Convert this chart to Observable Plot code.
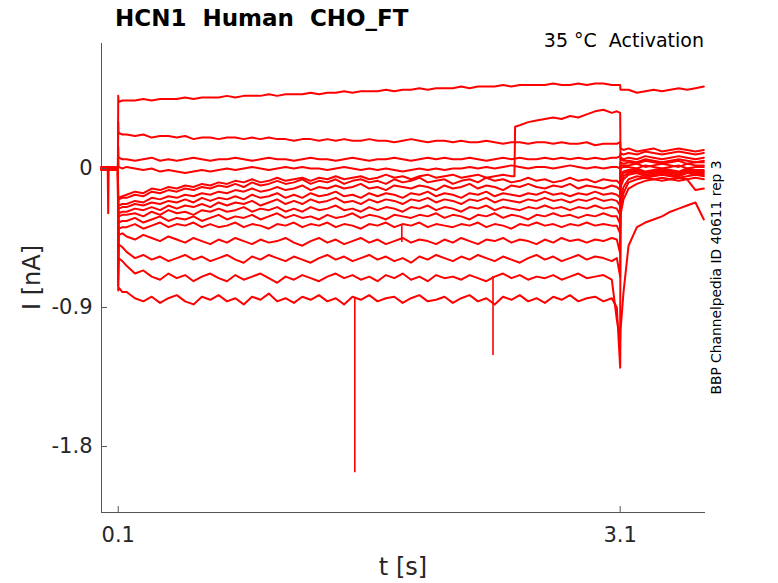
<!DOCTYPE html>
<html>
<head>
<meta charset="utf-8">
<script src="https://cdn.jsdelivr.net/npm/d3@7"></script>
<script src="https://cdn.jsdelivr.net/npm/@observablehq/plot@0.6"></script>
<style>
  html, body { margin: 0; padding: 0; background: #fff; }
  svg text { white-space: pre; }
</style>
</head>
<body>
<div id="chart"></div>
<script>
// ---- sample times (s) ----
const tPre = [0, 0.02, 0.037, 0.04, 0.043, 0.07, 0.098];
const tOn = [0.1, 0.102, 0.125];
const tStep = d3.range(59).map(i => +(0.15 + 0.05 * i).toFixed(2)); // 0.15 .. 3.05
const tOff = [3.08, 3.1, 3.102, 3.12];
const tPost = d3.range(10).map(i => +(3.15 + 0.05 * i).toFixed(2)); // 3.15 .. 3.6
const time = [...tPre, ...tOn, ...tStep, ...tOff, ...tPost];

// ---- current traces (nA): pre(7) | onset(3) | step(59) | offset(4) | post(10) ----
const trace01 = [0.01,-0.01,0.00,0.01,0.00,-0.01,0.01,
  0.47,0.43,0.44,
  0.44,0.44,0.45,0.44,0.45,0.45,0.45,0.46,0.45,0.46,
  0.46,0.46,0.47,0.46,0.47,0.47,0.47,0.48,0.47,0.48,
  0.48,0.48,0.49,0.48,0.49,0.49,0.50,0.49,0.50,0.50,
  0.50,0.51,0.50,0.51,0.51,0.52,0.51,0.52,0.52,0.52,
  0.53,0.52,0.53,0.53,0.53,0.54,0.53,0.54,0.54,0.54,
  0.54,0.55,0.54,0.54,0.55,0.54,0.55,0.55,0.54,
  0.54,0.54,0.51,0.51,
  0.51,0.49,0.50,0.51,0.50,0.51,0.52,0.51,0.52,0.53];
const trace02 = [0.00,0.01,-0.01,0.00,0.01,0.00,-0.01,
  0.30,0.23,0.22,
  0.22,0.21,0.22,0.20,0.21,0.21,0.20,0.21,0.19,0.20,
  0.20,0.19,0.20,0.20,0.19,0.20,0.19,0.20,0.19,0.19,
  0.18,0.19,0.19,0.18,0.19,0.18,0.19,0.18,0.18,0.19,
  0.18,0.18,0.17,0.18,0.19,0.18,0.17,0.18,0.18,0.17,
  0.18,0.17,0.17,0.18,0.17,0.16,0.17,0.17,0.16,0.17,
  0.17,0.16,0.17,0.16,0.16,0.17,0.15,0.16,0.16,
  0.16,0.17,0.13,0.12,
  0.13,0.11,0.12,0.13,0.11,0.12,0.13,0.12,0.11,0.12];
const trace03 = [-0.01,0.00,0.01,-0.29,0.01,0.00,0.00,
  0.14,0.07,0.06,
  0.06,0.05,0.06,0.07,0.05,0.06,0.05,0.06,0.07,0.06,
  0.05,0.06,0.06,0.07,0.06,0.05,0.06,0.07,0.06,0.06,
  0.05,0.06,0.07,0.06,0.06,0.05,0.06,0.07,0.06,0.05,
  0.06,0.06,0.07,0.06,0.05,0.06,0.07,0.06,0.07,0.06,
  0.06,0.07,0.06,0.05,0.06,0.07,0.06,0.07,0.06,0.06,
  0.07,0.06,0.07,0.06,0.07,0.06,0.07,0.06,0.07,
  0.07,0.08,0.10,0.09,
  0.10,0.09,0.11,0.10,0.09,0.10,0.11,0.10,0.09,0.10];
const trace04 = [0.01,0.00,-0.01,0.00,0.01,-0.01,0.00,
  0.08,0.01,0.00,
  0.01,0.00,-0.01,0.00,-0.02,-0.01,-0.02,-0.03,-0.02,-0.01,
  -0.02,-0.01,0.00,-0.01,0.00,0.01,0.00,-0.01,0.00,0.01,
  0.00,0.01,0.00,0.00,-0.01,0.00,0.01,0.00,-0.01,0.00,
  -0.01,0.00,-0.01,-0.02,-0.01,0.00,-0.01,0.00,-0.01,0.00,
  0.00,0.01,0.00,0.01,0.00,0.01,0.02,0.01,0.00,0.01,
  0.01,0.00,0.01,0.02,0.01,0.00,0.01,0.00,0.01,
  0.01,0.00,0.07,0.06,
  0.07,0.06,0.08,0.07,0.06,0.07,0.08,0.07,0.06,0.07];
const trace05 = [0.00,-0.01,0.01,0.00,0.00,0.01,-0.01,
  -0.22,-0.19,-0.18,
  -0.17,-0.15,-0.16,-0.13,-0.14,-0.12,-0.13,-0.11,-0.12,-0.10,
  -0.11,-0.09,-0.10,-0.08,-0.09,-0.07,-0.09,-0.08,-0.06,-0.08,
  -0.07,-0.06,-0.08,-0.06,-0.07,-0.05,-0.07,-0.06,-0.05,-0.07,
  -0.06,-0.04,-0.06,-0.05,-0.07,-0.05,-0.04,-0.06,-0.05,-0.04,
  -0.06,-0.05,-0.04,-0.06,-0.05,-0.04,-0.05,
  0.28,0.30,0.31,0.32,0.33,0.32,0.34,0.33,0.35,0.37,0.38,0.36,
  0.37,0.36,0.06,0.05,
  0.05,0.04,0.06,0.05,0.04,0.05,0.06,0.05,0.04,0.05];
// extra samples of trace05 around its sudden jump
const jumpTime = [2.468, 2.472];
const jumpValue = [-0.05, 0.27];
const trace06 = [-0.01,0.01,0.00,-0.01,0.00,0.01,0.00,
  -0.24,-0.20,-0.19,
  -0.19,-0.17,-0.18,-0.15,-0.16,-0.14,-0.15,-0.13,-0.14,-0.12,
  -0.13,-0.11,-0.12,-0.10,-0.12,-0.09,-0.11,-0.10,-0.08,-0.10,
  -0.09,-0.07,-0.10,-0.08,-0.09,-0.07,-0.10,-0.08,-0.07,-0.09,
  -0.08,-0.10,-0.07,-0.09,-0.08,-0.06,-0.09,-0.08,-0.07,-0.10,
  -0.08,-0.07,-0.09,-0.06,-0.08,-0.07,-0.09,-0.08,-0.06,-0.08,
  -0.07,-0.09,-0.08,-0.06,-0.08,-0.07,-0.09,-0.07,-0.08,
  -0.08,-0.10,0.04,0.03,
  0.04,0.03,0.05,0.04,0.03,0.04,0.05,0.03,0.04,0.04];
const trace07 = [0.01,0.00,-0.01,0.01,0.00,-0.01,0.01,
  -0.30,-0.24,-0.23,
  -0.23,-0.21,-0.22,-0.19,-0.20,-0.18,-0.19,-0.17,-0.18,-0.16,
  -0.17,-0.15,-0.16,-0.14,-0.15,-0.13,-0.15,-0.14,-0.12,-0.14,
  -0.13,-0.11,-0.14,-0.12,-0.13,-0.11,-0.13,-0.12,-0.10,-0.13,
  -0.12,-0.14,-0.11,-0.12,-0.13,-0.11,-0.12,-0.14,-0.11,-0.13,
  -0.12,-0.10,-0.13,-0.11,-0.12,-0.14,-0.11,-0.12,-0.10,-0.12,
  -0.13,-0.11,-0.12,-0.10,-0.13,-0.11,-0.12,-0.13,-0.11,
  -0.12,-0.14,0.02,0.02,
  0.02,0.03,0.01,0.02,0.03,0.02,0.01,0.03,0.02,0.02];
const trace08 = [0.00,0.01,0.00,-0.01,0.01,0.00,-0.01,
  -0.36,-0.26,-0.25,
  -0.25,-0.23,-0.24,-0.22,-0.23,-0.21,-0.22,-0.20,-0.22,-0.19,
  -0.21,-0.19,-0.20,-0.18,-0.20,-0.17,-0.19,-0.18,-0.16,-0.19,
  -0.17,-0.19,-0.16,-0.18,-0.17,-0.15,-0.18,-0.17,-0.19,-0.16,
  -0.18,-0.16,-0.17,-0.19,-0.16,-0.17,-0.15,-0.18,-0.16,-0.17,
  -0.19,-0.16,-0.17,-0.15,-0.18,-0.16,-0.17,-0.18,-0.16,-0.17,
  -0.15,-0.17,-0.16,-0.18,-0.16,-0.17,-0.15,-0.17,-0.16,
  -0.17,-0.19,0.00,0.01,
  0.01,0.00,0.02,0.01,0.00,0.01,0.02,0.00,0.01,0.01];
const trace09 = [-0.01,0.00,0.01,0.00,-0.01,0.00,0.01,
  -0.42,-0.29,-0.28,
  -0.28,-0.26,-0.27,-0.25,-0.27,-0.24,-0.26,-0.24,-0.25,-0.23,
  -0.25,-0.22,-0.24,-0.22,-0.23,-0.21,-0.24,-0.22,-0.20,-0.23,
  -0.21,-0.23,-0.20,-0.22,-0.21,-0.19,-0.22,-0.21,-0.23,-0.20,
  -0.22,-0.20,-0.21,-0.23,-0.20,-0.21,-0.19,-0.22,-0.20,-0.21,
  -0.23,-0.20,-0.21,-0.19,-0.22,-0.20,-0.21,-0.22,-0.20,-0.21,
  -0.19,-0.21,-0.20,-0.22,-0.20,-0.21,-0.19,-0.21,-0.20,
  -0.21,-0.24,-0.03,-0.02,
  -0.01,0.00,-0.02,-0.01,0.00,-0.01,-0.02,0.00,-0.01,-0.01];
const trace10 = [0.00,-0.01,0.00,0.01,0.00,-0.01,0.00,
  -0.50,-0.31,-0.30,
  -0.30,-0.29,-0.31,-0.28,-0.30,-0.27,-0.29,-0.28,-0.30,-0.27,
  -0.28,-0.26,-0.28,-0.27,-0.25,-0.28,-0.26,-0.27,-0.25,-0.28,
  -0.26,-0.28,-0.25,-0.27,-0.26,-0.24,-0.27,-0.26,-0.28,-0.25,
  -0.27,-0.25,-0.26,-0.28,-0.25,-0.26,-0.24,-0.27,-0.25,-0.26,
  -0.28,-0.25,-0.26,-0.24,-0.27,-0.25,-0.26,-0.27,-0.25,-0.26,
  -0.24,-0.26,-0.25,-0.27,-0.25,-0.26,-0.24,-0.26,-0.25,
  -0.26,-0.30,-0.06,-0.03,
  -0.02,-0.01,-0.03,-0.02,-0.01,-0.02,-0.03,-0.01,-0.02,-0.02];
const trace11 = [0.01,0.00,-0.01,0.00,0.01,0.00,-0.01,
  -0.56,-0.35,-0.34,
  -0.34,-0.32,-0.35,-0.33,-0.31,-0.34,-0.32,-0.33,-0.31,-0.34,
  -0.32,-0.30,-0.33,-0.31,-0.32,-0.30,-0.33,-0.31,-0.29,-0.32,
  -0.30,-0.32,-0.31,-0.33,-0.30,-0.32,-0.31,-0.29,-0.32,-0.30,
  -0.31,-0.33,-0.30,-0.31,-0.32,-0.30,-0.31,-0.29,-0.32,-0.30,
  -0.31,-0.33,-0.30,-0.31,-0.29,-0.32,-0.30,-0.31,-0.33,-0.30,
  -0.31,-0.29,-0.31,-0.30,-0.32,-0.30,-0.31,-0.29,-0.31,
  -0.31,-0.36,-0.09,-0.05,
  -0.03,-0.02,-0.04,-0.03,-0.02,-0.03,-0.04,-0.02,-0.03,-0.03];
const trace12 = [0.00,0.01,0.00,-0.01,0.00,0.01,0.00,
  -0.62,-0.39,-0.38,
  -0.38,-0.36,-0.39,-0.37,-0.35,-0.38,-0.36,-0.37,-0.35,-0.38,
  -0.36,-0.38,-0.37,-0.35,-0.38,-0.36,-0.37,-0.39,-0.36,-0.37,
  -0.35,-0.38,-0.36,-0.37,-0.35,-0.38,-0.36,-0.37,-0.39,-0.36,
  -0.37,-0.35,-0.38,-0.36,-0.37,-0.35,-0.38,-0.36,-0.37,-0.38,
  -0.36,-0.37,-0.35,-0.38,-0.36,-0.37,-0.39,-0.36,-0.37,-0.35,
  -0.37,-0.36,-0.38,-0.36,-0.37,-0.35,-0.37,-0.36,-0.37,
  -0.37,-0.42,-0.12,-0.07,
  -0.04,-0.03,-0.05,-0.04,-0.03,-0.04,-0.05,-0.03,-0.04,-0.04];
const trace13 = [-0.01,0.00,0.01,-0.01,0.00,0.00,0.01,
  -0.68,-0.43,-0.42,
  -0.44,-0.46,-0.43,-0.45,-0.47,-0.44,-0.46,-0.48,-0.45,-0.47,
  -0.49,-0.46,-0.48,-0.45,-0.47,-0.49,-0.46,-0.48,-0.47,-0.45,
  -0.48,-0.50,-0.47,-0.45,-0.48,-0.46,-0.49,-0.47,-0.45,-0.48,
  -0.46,-0.49,-0.47,-0.45,-0.48,-0.46,-0.47,-0.49,-0.46,-0.48,
  -0.45,-0.47,-0.49,-0.46,-0.47,-0.45,-0.48,-0.46,-0.47,-0.49,
  -0.46,-0.48,-0.45,-0.47,-0.46,-0.48,-0.46,-0.47,-0.45,
  -0.46,-0.55,-0.20,-0.12,
  -0.07,-0.05,-0.06,-0.05,-0.04,-0.05,-0.06,-0.05,-0.04,-0.05];
const trace14 = [0.00,0.01,-0.01,0.00,0.01,-0.01,0.00,
  -0.72,-0.49,-0.51,
  -0.54,-0.58,-0.56,-0.59,-0.57,-0.60,-0.58,-0.56,-0.59,-0.57,
  -0.60,-0.58,-0.56,-0.59,-0.61,-0.57,-0.59,-0.56,-0.58,-0.60,
  -0.57,-0.59,-0.61,-0.58,-0.56,-0.59,-0.57,-0.60,-0.58,-0.56,
  -0.59,-0.57,-0.60,-0.58,-0.61,-0.57,-0.59,-0.56,-0.58,-0.60,
  -0.57,-0.59,-0.56,-0.58,-0.60,-0.57,-0.59,-0.61,-0.58,-0.56,
  -0.59,-0.57,-0.60,-0.58,-0.56,-0.59,-0.57,-0.58,-0.60,
  -0.58,-0.70,-0.25,-0.16,
  -0.09,-0.07,-0.06,-0.07,-0.06,-0.07,-0.06,-0.07,-0.06,-0.07];
const trace15 = [0.01,0.00,0.00,0.01,-0.01,0.00,-0.01,
  -0.76,-0.58,-0.60,
  -0.63,-0.68,-0.66,-0.70,-0.72,-0.68,-0.71,-0.69,-0.73,-0.70,
  -0.68,-0.71,-0.73,-0.69,-0.72,-0.70,-0.68,-0.71,-0.74,-0.70,
  -0.72,-0.69,-0.71,-0.73,-0.70,-0.68,-0.71,-0.69,-0.72,-0.70,
  -0.73,-0.69,-0.71,-0.68,-0.72,-0.70,-0.73,-0.69,-0.71,-0.70,
  -0.72,-0.69,-0.71,-0.73,-0.70,-0.68,-0.71,-0.69,-0.72,-0.70,
  -0.71,-0.69,-0.72,-0.70,-0.68,-0.71,-0.70,-0.69,-0.72,
  -0.98,-1.10,-0.30,-0.20,
  -0.13,-0.10,-0.08,-0.07,-0.08,-0.07,-0.08,-0.07,-0.14,-0.13];
const trace16 = [0.00,-0.01,0.01,0.00,-0.01,0.01,0.00,
  -0.79,-0.77,-0.80,
  -0.80,-0.84,-0.86,-0.83,-0.87,-0.84,-0.82,-0.86,-0.88,-0.83,
  -0.85,-0.82,-0.86,-0.84,-0.88,-0.83,-0.85,-0.81,-0.86,-0.84,
  -0.87,-0.83,-0.85,-0.82,-0.86,-0.84,-0.88,-0.83,-0.85,-0.82,
  -0.86,-0.84,-0.83,-0.87,-0.84,-0.82,-0.86,-0.85,-0.83,-0.87,
  -0.84,-0.82,-0.86,-0.84,-0.88,-0.83,-0.85,-0.82,-0.86,-0.84,
  -0.87,-0.83,-0.85,-0.82,-0.86,-0.84,-0.83,-0.86,-0.84,
  -0.90,-1.29,-1.05,-0.80,
  -0.50,-0.38,-0.35,-0.33,-0.31,-0.28,-0.26,-0.24,-0.22,-0.33];

// brief spikes (s, nA)
const spikeTime = [1.514, 2.34, 1.795];
const spikeFrom = [-0.84, -0.70, -0.37];
const spikeTo   = [-1.97, -1.21, -0.48];

// axes
const xDomain = [0, 3.61];
const yDomain = [-2.227, 0.809];
const xTicks = [0.1, 3.1];
const xTickLabels = ["0.1", "3.1"];
const yTicks = [0, -0.9, -1.8];
const yTickLabels = ["0", "-0.9", "-1.8"];

const titleText = "HCN1  Human  CHO_FT";
const subText = "35 °C  Activation";
const sideText = "BBP Channelpedia ID 40611 rep 3";
const xLabel = "t [s]";
const yLabel = "I [nA]";

// ---- build long-format table ----
const traces = [trace01, trace02, trace03, trace04, trace05, trace06, trace07, trace08,
                trace09, trace10, trace11, trace12, trace13, trace14, trace15, trace16];
let rows = [];
traces.forEach((tr, k) => tr.forEach((v, i) => rows.push({t: time[i], v, id: k})));
jumpTime.forEach((t, i) => rows.push({t, v: jumpValue[i], id: 4}));
rows = d3.sort(rows, d => d.id, d => d.t);
const spikes = spikeTime.map((t, i) => ({t, from: spikeFrom[i], to: spikeTo[i]}));

const W = 778, H = 583;
const axisColor = "#555";
const chart = Plot.plot({
  width: W, height: H,
  marginLeft: 101, marginRight: 73, marginTop: 43, marginBottom: 71,
  x: {domain: xDomain},
  y: {domain: yDomain},
  style: {fontFamily: "DejaVu Sans", background: "#fff", color: "#262626", overflow: "visible"},
  marks: [
    Plot.line(rows, {x: "t", y: "v", z: "id", stroke: "#ff0000", strokeWidth: 2, curve: "linear"}),
    Plot.ruleX(spikes, {x: "t", y1: "from", y2: "to", stroke: "#ff0000", strokeWidth: 1.6}),
    Plot.ruleX([xDomain[0]], {y1: yDomain[0], y2: yDomain[1], stroke: axisColor, strokeWidth: 1}),
    Plot.ruleY([yDomain[0]], {x1: xDomain[0], x2: xDomain[1], stroke: axisColor, strokeWidth: 1}),
    Plot.axisX({ticks: xTicks, tickFormat: (d, i) => xTickLabels[i], tickSize: -6, tickPadding: 21,
                fontSize: 21, label: null, stroke: axisColor}),
    Plot.axisY({ticks: yTicks, tickFormat: (d, i) => yTickLabels[i], tickSize: -6, tickPadding: 15,
                fontSize: 21, label: null, stroke: axisColor})
  ]
});
document.getElementById("chart").appendChild(chart);

const svg = d3.select(chart);
svg.append("text").attr("x", 115).attr("y", 26).attr("text-anchor", "start")
  .attr("font-family", "DejaVu Sans").attr("font-weight", "bold").attr("font-size", 23)
  .attr("fill", "#000").text(titleText);
svg.append("text").attr("x", 704).attr("y", 47).attr("text-anchor", "end")
  .attr("font-family", "DejaVu Sans").attr("font-size", 19).attr("fill", "#000").text(subText);
svg.append("text").attr("transform", "translate(721,277.5) rotate(-90)").attr("text-anchor", "middle")
  .attr("font-family", "DejaVu Sans").attr("font-size", 13.8).attr("fill", "#000").text(sideText);
svg.append("text").attr("x", 403).attr("y", 575).attr("text-anchor", "middle")
  .attr("font-family", "DejaVu Sans").attr("font-size", 24).attr("fill", "#262626").text(xLabel);
svg.append("text").attr("transform", "translate(40,277.5) rotate(-90)").attr("text-anchor", "middle")
  .attr("font-family", "DejaVu Sans").attr("font-size", 24).attr("fill", "#262626").text(yLabel);
</script>
</body>
</html>
